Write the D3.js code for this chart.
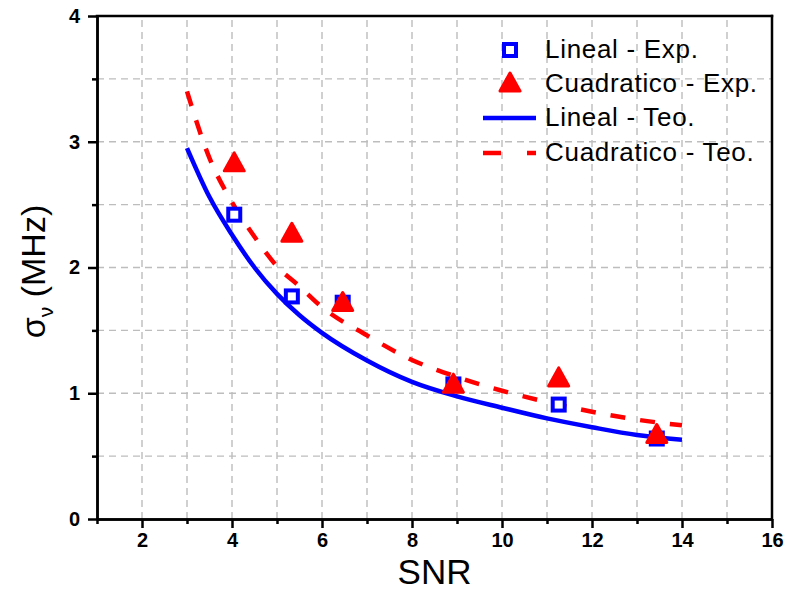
<!DOCTYPE html>
<html>
<head>
<meta charset="utf-8">
<script src="https://cdn.jsdelivr.net/npm/d3@7"></script>
<style>
  body { margin: 0; background: #fff; }
  text { font-family: "Liberation Sans", Arial, sans-serif; }
</style>
</head>
<body>
<svg id="chart" width="785" height="590"></svg>
<script>
// Measured points
const snrExp = [4.05, 5.33, 6.46, 8.92, 11.26, 13.44];
const linealExp = [2.42, 1.77, 1.72, 1.07, 0.91, 0.64];
const cuadraticoExp = [2.84, 2.28, 1.73, 1.08, 1.13, 0.68];

// Theoretical curves
const snrTeo = [3, 3.5, 4, 4.5, 5, 5.5, 6, 7, 8, 9, 10, 11, 12, 13, 14];
const linealTeo = [2.95, 2.56, 2.26, 2.00, 1.79, 1.62, 1.48, 1.26, 1.09, 0.975, 0.885, 0.80, 0.73, 0.668, 0.63];
const cuadraticoTeo = [3.40, 2.87, 2.52, 2.245, 2.01, 1.85, 1.685, 1.46, 1.265, 1.13, 1.02, 0.93, 0.853, 0.79, 0.745];

// Axis ticks
const xMajor = [2, 4, 6, 8, 10, 12, 14, 16];
const xMinor = [1, 3, 5, 7, 9, 11, 13, 15];
const yMajor = [0, 1, 2, 3, 4];
const yMinor = [0.5, 1.5, 2.5, 3.5];

const legendLabels = ["Lineal - Exp.", "Cuadratico - Exp.", "Lineal - Teo.", "Cuadratico - Teo."];

const BLUE = "#0000ff", RED = "#ff0000";
const W = 785, H = 590;
const margin = { left: 97, right: 13, top: 16, bottom: 71 };

const svg = d3.select("#chart");
const x = d3.scaleLinear().domain([1, 16]).range([margin.left, W - margin.right]);
const y = d3.scaleLinear().domain([0, 4]).range([H - margin.bottom, margin.top]);

// Dashed grid at every major and minor tick
const grid = svg.append("g").attr("stroke", "#bdbdbd").attr("stroke-width", 1.4)
  .attr("stroke-dasharray", "7,5");
grid.selectAll("line.gx").data(d3.range(2, 16)).join("line")
  .attr("x1", d => x(d)).attr("x2", d => x(d))
  .attr("y1", y(0)).attr("y2", y(4));
grid.selectAll("line.gy").data(d3.range(0.5, 4, 0.5)).join("line")
  .attr("x1", x(1)).attr("x2", x(16))
  .attr("y1", d => y(d)).attr("y2", d => y(d));

// Theoretical curves
const line = (vals) => d3.line()
  .x((d, i) => x(snrTeo[i]))
  .y(d => y(d))
  .curve(d3.curveMonotoneX)(vals);

svg.append("path").attr("d", line(linealTeo))
  .attr("fill", "none").attr("stroke", BLUE).attr("stroke-width", 4.5);
svg.append("path").attr("d", line(cuadraticoTeo))
  .attr("fill", "none").attr("stroke", RED).attr("stroke-width", 4.5)
  .attr("stroke-dasharray", "15,15");

// Triangle symbol centred on its bounding box
const triangle = {
  draw(ctx, size) {
    const hw = Math.sqrt(size) * 0.62, hh = hw * 0.9;
    ctx.moveTo(0, -hh);
    ctx.lineTo(hw, hh);
    ctx.lineTo(-hw, hh);
    ctx.closePath();
  }
};
const triPath = d3.symbol().type(triangle).size(260)();

// Experimental markers
svg.append("g").selectAll("rect").data(linealExp).join("rect")
  .attr("x", (d, i) => x(snrExp[i]) - 6).attr("y", d => y(d) - 6)
  .attr("width", 12).attr("height", 12)
  .attr("fill", "#fff").attr("stroke", BLUE).attr("stroke-width", 4);

svg.append("g").selectAll("path").data(cuadraticoExp).join("path")
  .attr("d", triPath)
  .attr("transform", (d, i) => `translate(${x(snrExp[i])},${y(d)})`)
  .attr("fill", RED).attr("stroke", RED).attr("stroke-width", 3)
  .attr("stroke-linejoin", "round");

// Axes
const axisStyle = g => {
  g.selectAll(".domain").attr("stroke", "#000").attr("stroke-width", 2.5);
  g.selectAll(".tick line").attr("stroke", "#000").attr("stroke-width", 2.5);
  g.selectAll(".tick text").attr("fill", "#000")
    .style("font-family", '"Liberation Sans", Arial, sans-serif')
    .style("font-weight", "bold").style("font-size", "20px");
};

svg.append("g").attr("transform", `translate(0,${y(0)})`)
  .call(d3.axisBottom(x).tickValues(xMinor).tickSize(5).tickSizeOuter(0).tickFormat(""))
  .call(axisStyle);
svg.append("g").attr("transform", `translate(0,${y(0)})`)
  .call(d3.axisBottom(x).tickValues(xMajor).tickSize(9).tickSizeOuter(0).tickPadding(5))
  .call(axisStyle);

svg.append("g").attr("transform", `translate(${x(1)},0)`)
  .call(d3.axisLeft(y).tickValues(yMinor).tickSize(5).tickSizeOuter(0).tickFormat(""))
  .call(axisStyle);
svg.append("g").attr("transform", `translate(${x(1)},0)`)
  .call(d3.axisLeft(y).tickValues(yMajor).tickSize(9).tickSizeOuter(0).tickPadding(8).tickFormat(d3.format("d")))
  .call(axisStyle);

// Top and right frame
svg.append("line").attr("x1", x(1)).attr("x2", x(16)).attr("y1", y(4)).attr("y2", y(4))
  .attr("stroke", "#000").attr("stroke-width", 2.5).attr("stroke-linecap", "square");
svg.append("line").attr("x1", x(16)).attr("x2", x(16)).attr("y1", y(4)).attr("y2", y(0))
  .attr("stroke", "#000").attr("stroke-width", 2.5).attr("stroke-linecap", "square");

// Axis titles
svg.append("text").attr("x", (x(1) + x(16)) / 2).attr("y", 584)
  .attr("text-anchor", "middle").style("font-size", "35px").text("SNR");

const yTitle = svg.append("text")
  .attr("transform", `translate(45,${(y(0) + y(4)) / 2 + 4}) rotate(-90)`)
  .attr("text-anchor", "middle").style("font-size", "34px");
yTitle.append("tspan").text("σ");
yTitle.append("tspan").attr("dy", 8).style("font-size", "21px").text("ν");
yTitle.append("tspan").attr("dy", -8).text(" (MHz)");

// Legend
const legend = svg.append("g");
const ly = [50, 84, 118, 153];
legend.append("rect").attr("x", 504).attr("y", ly[0] - 6).attr("width", 12).attr("height", 12)
  .attr("fill", "#fff").attr("stroke", BLUE).attr("stroke-width", 4);
legend.append("path").attr("d", triPath).attr("transform", `translate(510,${ly[1] - 2})`)
  .attr("fill", RED).attr("stroke", RED).attr("stroke-width", 3).attr("stroke-linejoin", "round");
legend.append("line").attr("x1", 483).attr("x2", 536).attr("y1", ly[2]).attr("y2", ly[2])
  .attr("stroke", BLUE).attr("stroke-width", 4.5);
legend.append("line").attr("x1", 483).attr("x2", 536).attr("y1", ly[3]).attr("y2", ly[3])
  .attr("stroke", RED).attr("stroke-width", 4.5).attr("stroke-dasharray", "18,26");
legend.selectAll("text").data(legendLabels).join("text")
  .attr("x", 545).attr("y", (d, i) => ly[i] + 8)
  .style("font-size", "26px").style("letter-spacing", "0.7px")
  .attr("fill", "#000").text(d => d);
</script>
</body>
</html>
